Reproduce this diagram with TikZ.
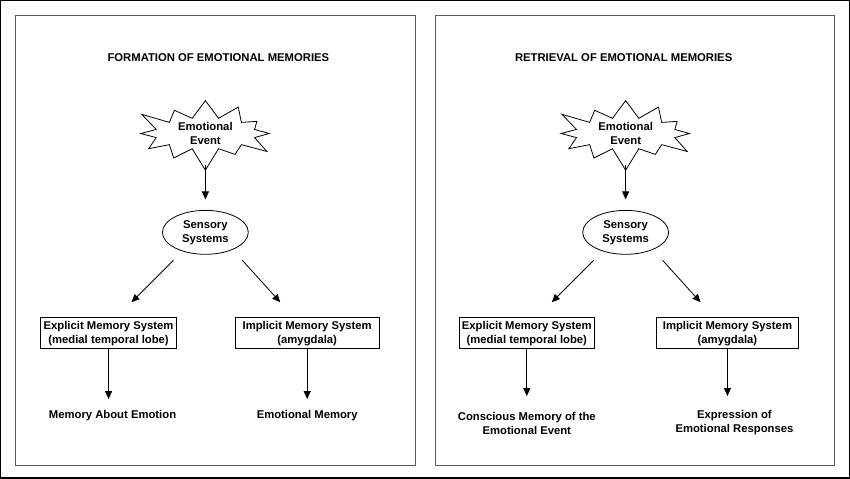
\documentclass[tikz,border=0pt]{standalone}
\usepackage{fontspec}
\setmainfont{Liberation Sans}
\usetikzlibrary{shapes.symbols,shapes.geometric,arrows.meta}
\begin{document}
\begin{tikzpicture}[x=1pt,y=-1pt,
  txt/.style={font=\bfseries\fontsize{11.3}{14}\selectfont,align=center},
  burst/.style={starburst,draw,thick,starburst points=12,starburst point height=24pt,minimum width=150pt,minimum height=62pt,txt,inner sep=0pt},
  ell/.style={ellipse,draw,thick,minimum width=86pt,minimum height=44pt,txt,inner sep=0pt},
  box/.style={rectangle,draw,thick,minimum height=31pt,txt,inner sep=1pt},
  arr/.style={-{Triangle[length=8pt,width=7pt]},thick},
  panel/.style={draw=gray!70!black,thick}]
\path[fill=white] (0,0) rectangle (850,478);
\draw[black,line width=1.5pt] (0,0) rectangle (850,478);
\draw[panel] (15,15) rectangle (415,465);
\draw[panel] (435,15) rectangle (835,465);
\node[txt] (t1) at (218,57) {FORMATION OF EMOTIONAL MEMORIES};
\node[txt] (t2) at (624,57) {RETRIEVAL OF EMOTIONAL MEMORIES};
% left
\node[burst] (e1) at (205,133) {Emotional\\Event};
\node[ell] (s1) at (205,232) {Sensory\\Systems};
\node[box,minimum width=136pt] (x1) at (108,333) {Explicit Memory System\\(medial temporal lobe)};
\node[box,minimum width=144pt] (i1) at (307,333) {Implicit Memory System\\(amygdala)};
\node[txt] (o1) at (112,416) {Memory About Emotion};
\node[txt] (p1) at (307,416) {Emotional Memory};
\coordinate (a1) at (205,165); \coordinate (b1) at (205,199);
\draw[arr] (a1) -- (b1);
\coordinate (c1) at (173,260); \coordinate (d1) at (131,302);
\coordinate (f1) at (242,260); \coordinate (g1) at (280,302);
\draw[arr] (c1) -- (d1); \draw[arr] (f1) -- (g1);
\coordinate (h1) at (108,399); \coordinate (k1) at (307,399);
\draw[arr] (x1.south -| h1) -- (h1);
\draw[arr] (i1.south -| k1) -- (k1);
% right
\node[burst] (e2) at (626,133) {Emotional\\Event};
\node[ell] (s2) at (626,232) {Sensory\\Systems};
\node[box,minimum width=136pt] (x2) at (527,333) {Explicit Memory System\\(medial temporal lobe)};
\node[box,minimum width=142pt] (i2) at (728,333) {Implicit Memory System\\(amygdala)};
\node[txt] (o2) at (527,423) {Conscious Memory of the\\Emotional Event};
\node[txt] (p2) at (735,423) {Expression of\\Emotional Responses};
\coordinate (a2) at (626,165); \coordinate (b2) at (626,199);
\draw[arr] (a2) -- (b2);
\coordinate (c2) at (594,260); \coordinate (d2) at (552,302);
\coordinate (f2) at (663,260); \coordinate (g2) at (701,302);
\draw[arr] (c2) -- (d2); \draw[arr] (f2) -- (g2);
\coordinate (h2) at (527,396); \coordinate (k2) at (728,396);
\draw[arr] (x2.south -| h2) -- (h2);
\draw[arr] (i2.south -| k2) -- (k2);
\end{tikzpicture}
\end{document}
